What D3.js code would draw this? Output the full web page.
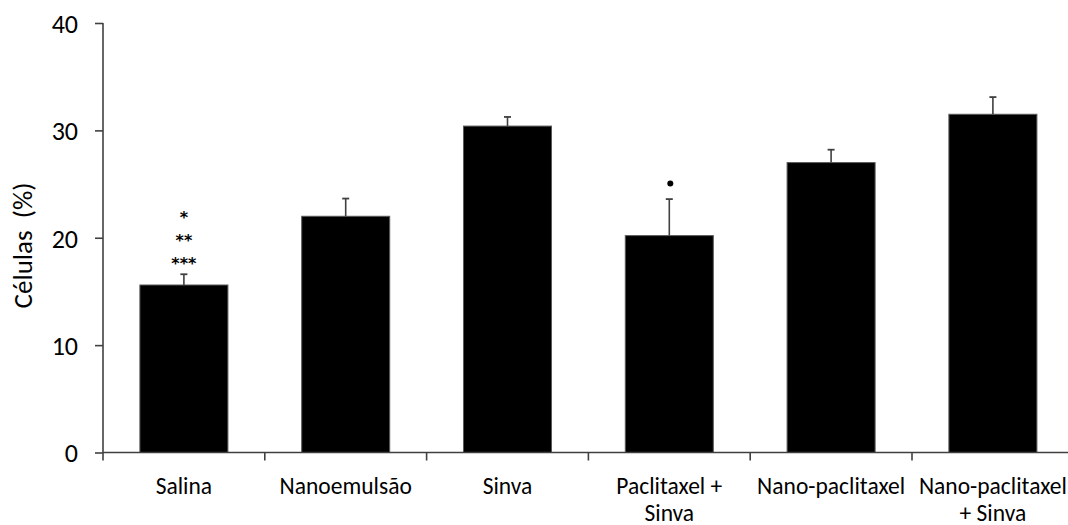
<!DOCTYPE html>
<html>
<head>
<meta charset="utf-8">
<script src="https://cdn.jsdelivr.net/npm/d3@7"></script>
<style>
  html, body { margin: 0; padding: 0; background: #fff; }
  svg { display: block; }
  text { font-family: Carlito, Lato, "Liberation Sans", sans-serif; fill: #000; }
</style>
</head>
<body>
<svg id="chart" width="1068" height="525"></svg>
<script>
// Treatment groups and their label lines
const categories = ["Salina", "Nanoemulsão", "Sinva", "Paclitaxel + Sinva", "Nano-paclitaxel", "Nano-paclitaxel + Sinva"];
const labelLines = [["Salina"], ["Nanoemulsão"], ["Sinva"], ["Paclitaxel +", "Sinva"], ["Nano-paclitaxel"], ["Nano-paclitaxel", "+ Sinva"]];
// Mean percentage of cells and the upper error (SEM)
const means = [15.6, 22.0, 30.4, 20.2, 27.0, 31.5];
const errors = [1.0, 1.65, 0.85, 3.4, 1.2, 1.6];
// Significance marks drawn above the bars
const significance = [["*", "**", "***"], [], [], ["•"], [], []];
const yTicks = [0, 10, 20, 30, 40];

const svg = d3.select("#chart");
const axisColor = "#404040";

const x = d3.scaleBand()
  .domain(categories)
  .range([103, 1073.8])
  .paddingInner(0.456)
  .paddingOuter(0.228);

const y = d3.scaleLinear().domain([0, 40]).range([452.5, 23]);

const data = categories.map((c, i) => ({ cat: c, mean: means[i], err: errors[i], lines: labelLines[i], sig: significance[i] }));

// Bars
svg.append("g").selectAll("rect").data(data).join("rect")
  .attr("x", d => x(d.cat))
  .attr("y", d => y(d.mean))
  .attr("width", x.bandwidth())
  .attr("height", d => y(0) - y(d.mean))
  .attr("fill", "#000")
  .attr("stroke", "#5a5a5a")
  .attr("stroke-width", 1);

// Upper error bars
const eb = svg.append("g").attr("stroke", axisColor).attr("stroke-width", 1.6);
data.forEach(d => {
  const cx = x(d.cat) + x.bandwidth() / 2;
  eb.append("line").attr("x1", cx).attr("x2", cx).attr("y1", y(d.mean)).attr("y2", y(d.mean + d.err));
  eb.append("line").attr("x1", cx - 3.5).attr("x2", cx + 3.5).attr("y1", y(d.mean + d.err)).attr("y2", y(d.mean + d.err)).attr("stroke-width", 1.8);
});

// Significance marks
data.forEach(d => {
  const cx = x(d.cat) + x.bandwidth() / 2;
  const top = y(d.mean + d.err);
  if (d.sig.length === 3) {
    d.sig.forEach((s, k) => {
      svg.append("text")
        .attr("x", cx).attr("y", top - 5.5 - (2 - k) * 22.8)
        .attr("text-anchor", "middle")
        .style("font-family", "'DejaVu Sans', sans-serif")
        .style("font-size", "16px").style("font-weight", "bold")
        .text(s);
    });
  } else if (d.sig.length === 1) {
    svg.append("circle").attr("cx", cx + 1).attr("cy", top - 15.5).attr("r", 3).attr("fill", "#000");
  }
});

// Y axis
const yAxis = svg.append("g").attr("transform", "translate(103,0)")
  .call(d3.axisLeft(y).tickValues(yTicks).tickSize(8).tickPadding(17).tickFormat(d3.format("d")));
yAxis.select(".domain").attr("stroke", axisColor).attr("stroke-width", 1.6).attr("d", `M0,${y(40)}V${y(0)}`);
yAxis.selectAll(".tick line").attr("stroke", axisColor).attr("stroke-width", 1.6);
yAxis.selectAll(".tick text")
  .style("font-size", "26px")
  .style("font-family", "Carlito, Lato, sans-serif")
  .attr("fill", "#000").attr("dy", "0.36em");

// X axis: ticks at the boundaries between groups
const step = x.step();
const boundaries = d3.range(categories.length).map(i => x(categories[i]) - step * 0.228);
const xa = svg.append("g");
xa.append("line").attr("x1", 103).attr("x2", 1074).attr("y1", y(0)).attr("y2", y(0))
  .attr("stroke", axisColor).attr("stroke-width", 1.6);
xa.selectAll("line.tk").data(boundaries).join("line").attr("class", "tk")
  .attr("x1", d => d).attr("x2", d => d).attr("y1", y(0)).attr("y2", y(0) + 8)
  .attr("stroke", axisColor).attr("stroke-width", 1.6);

// Category labels, one text per line
data.forEach(d => {
  const cx = x(d.cat) + x.bandwidth() / 2;
  d.lines.forEach((ln, k) => {
    svg.append("text").attr("text-anchor", "middle").style("font-size", "23.5px")
      .attr("x", cx).attr("y", 494 + k * 27).text(ln);
  });
});

// Y axis title
svg.append("text")
  .attr("transform", "translate(32,245.5) rotate(-90)")
  .attr("text-anchor", "middle")
  .style("font-size", "27px")
  .attr("xml:space", "preserve")
  .text("Células  (%)");
</script>
</body>
</html>
